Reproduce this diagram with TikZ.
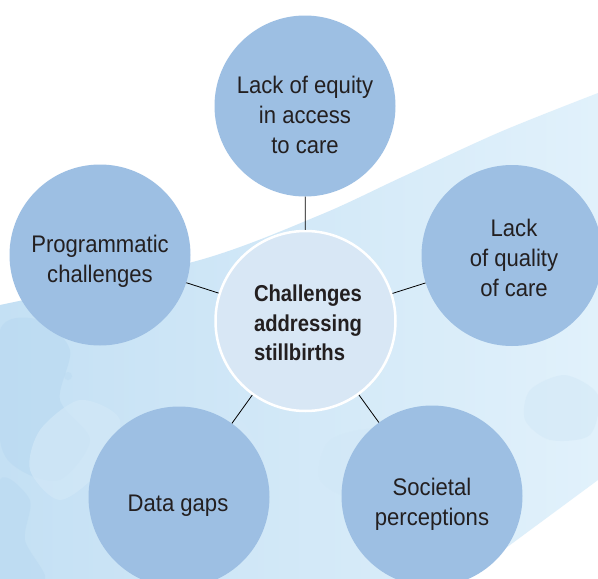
\documentclass[tikz,border=0pt]{standalone}
\usepackage{fontspec}
\setmainfont{Liberation Sans}[FakeStretch=0.92]
\newfontfamily\boldcond{Liberation Sans Bold}[FakeStretch=0.88]
\usetikzlibrary{shapes.geometric}
\definecolor{circfill}{HTML}{9DBFE3}
\definecolor{centfill}{HTML}{D8E7F5}
\definecolor{txt}{HTML}{231F20}
\definecolor{bandA}{HTML}{C4E0F4}
\definecolor{bandB}{HTML}{E1F1FB}
\definecolor{blobA}{HTML}{B9D9F1}
\definecolor{blobB}{HTML}{D2E8F7}
\tikzset{
  outer/.style={circle, fill=circfill, minimum size=181pt, inner sep=0pt},
  centre/.style={circle, fill=centfill, draw=white, line width=2.5pt, minimum size=180pt, inner sep=0pt},
  lbl/.style={text=txt, align=center, font=\fontsize{24}{30}\selectfont},
  clbl/.style={text=txt, align=left, font=\boldcond\fontsize{23}{29.5}\selectfont},
  link/.style={draw=black, line width=0.8pt}
}
\begin{document}
\begin{tikzpicture}[x=1pt,y=-1pt]
\useasboundingbox (0,0) rectangle (598,579);
\fill[white] (0,0) rectangle (598,579);
% background band
\shade[left color=bandA, right color=bandB]
  plot[smooth] coordinates {(0,305) (200,260) (320,215) (400,178) (500,132) (598,93)}
  -- (598,480) -- (464,579) -- (0,579) -- cycle;
\begin{scope}
\clip plot[smooth] coordinates {(0,305) (200,260) (320,215) (400,178) (500,132) (598,93)}
  -- (598,480) -- (464,579) -- (0,579) -- cycle;
\fill[blobA, opacity=0.6] plot[smooth cycle] coordinates {(0,330) (40,320) (70,350) (60,400) (90,440) (60,480) (20,470) (0,440)};
\fill[blobA, opacity=0.5] plot[smooth cycle] coordinates {(0,480) (30,500) (25,540) (45,579) (0,579)};
\fill[blobB, opacity=0.7] plot[smooth cycle] coordinates {(40,430) (80,400) (120,420) (100,470) (60,500) (30,470)};
\fill[blobB, opacity=0.6] plot[smooth cycle] coordinates {(200,430) (240,420) (260,460) (240,500) (210,480)};
\fill[blobB, opacity=0.6] plot[smooth cycle] coordinates {(440,200) (480,190) (520,230) (470,260) (430,240)};
\fill[blobB, opacity=0.5] plot[smooth cycle] coordinates {(530,390) (565,375) (598,395) (590,435) (550,440) (525,420)};
\fill[blobB, opacity=0.6] plot[smooth cycle] coordinates {(330,440) (380,430) (400,470) (360,500) (320,480)};
\fill[blobA, opacity=0.4] (68,376) circle (4pt);
\end{scope}
% circles
\node[outer] (top) at (305,106) {};
\node[outer] (left) at (100,255) {};
\node[outer] (right) at (512,255.5) {};
\node[outer] (bl) at (179,497) {};
\node[outer] (br) at (432,496) {};
\node[centre] (c) at (305.5,321) {};
% connectors
\draw[link] (c) -- (top);
\draw[link] (c) -- (left);
\draw[link] (c) -- (right);
\draw[link] (c) -- (bl);
\draw[link] (c) -- (br);
% labels
\node[lbl] (ttop) at (305,115) {Lack of equity\\in access\\to care};
\node[lbl] (tleft) at (100,261) {Programmatic\\challenges};
\node[lbl] (tright) at (514,257.5) {Lack\\of quality\\of care};
\node[lbl] (tbl) at (178,505.5) {Data gaps};
\node[lbl] (tbr) at (432,504.5) {Societal\\perceptions};
\node[clbl] (tc) at (308,323) {Challenges\\addressing\\stillbirths};
\end{tikzpicture}
\end{document}
